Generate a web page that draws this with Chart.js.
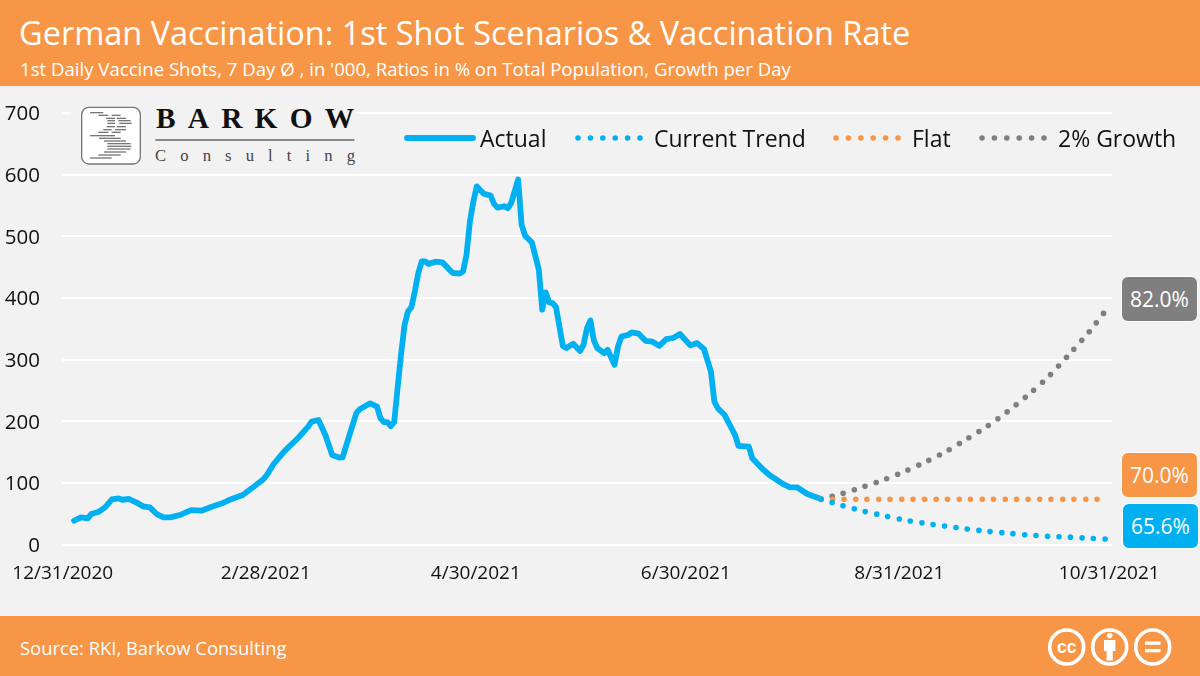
<!DOCTYPE html>
<html>
<head>
<meta charset="utf-8">
<title>German Vaccination</title>
<script src="https://cdn.jsdelivr.net/npm/chart.js@4"></script>
<style>
  html, body { margin: 0; padding: 0; }
  body { width: 1200px; height: 676px; background: #f2f2f2; position: relative; overflow: hidden; font-family: "Open Sans", sans-serif; }
  canvas { position: absolute; left: 0; top: 0; }
  .band { position: absolute; left: 0; width: 1200px; background: #f79646; color: #fff; }
  .header { top: 0; height: 86px; }
  .footer { top: 616px; height: 60px; }
  .title { position: absolute; left: 19px; top: 12px; font-size: 32.5px; line-height: 42px; white-space: nowrap; }
  .subtitle { position: absolute; left: 20px; top: 57px; font-size: 18.6px; line-height: 24px; white-space: nowrap; }
  .source { position: absolute; left: 20px; top: 19px; font-size: 18.4px; line-height: 26px; white-space: nowrap; }
  .logo, .cc { position: absolute; }
  .legend-item { position: absolute; top: 120px; height: 36px; }
  .legend-item svg { position: absolute; left: 0; top: 0; }
  .legend-item span { position: absolute; top: 0; line-height: 36px; font-size: 23px; color: #111; white-space: nowrap; }
  .tag { position: absolute; width: 75px; height: 44px; line-height: 44px; border: 1px solid #fff; border-radius: 7px; color: #fff; text-align: center; font-size: 21px; }
</style>
</head>
<body>
<canvas id="chart" width="1200" height="676"></canvas>

<div class="band header">
  <div class="title">German Vaccination: 1st Shot Scenarios &amp; Vaccination Rate</div>
  <div class="subtitle">1st Daily Vaccine Shots, 7 Day Ø , in '000, Ratios in % on Total Population, Growth per Day</div>
</div>
<div class="band footer">
  <div class="source">Source: RKI, Barkow Consulting</div>
  <svg class="cc" style="left:1040px;top:0" width="140" height="60" viewBox="0 0 140 60">
    <g fill="none" stroke="#fff" stroke-width="3.6">
      <circle cx="26.7" cy="31" r="17"/>
      <circle cx="69.7" cy="31" r="17"/>
      <circle cx="112.7" cy="31" r="17"/>
    </g>
    <text x="26.7" y="37" text-anchor="middle" fill="#fff" font-family="'Liberation Sans'" font-weight="700" font-size="17.5">cc</text>
    <g fill="#fff">
      <circle cx="69.7" cy="19.5" r="2.8"/>
      <path d="M64 24h11.4v11h-2.6v9.500h-6.200v-9.500h-2.600z"/>
      <rect x="105" y="25.500" width="15.500" height="3.300"/>
      <rect x="105" y="33" width="15.500" height="3.300"/>
    </g>
  </svg>
</div>

<svg class="logo" style="left:0;top:90px" width="400" height="100" viewBox="0 0 1200 300">
  <rect x="212" y="30" width="856" height="210" fill="#f2f2f2"/>
  <rect x="245" y="52" width="176" height="170" rx="22" fill="#fff" stroke="#777" stroke-width="4"/>
  <g id="logoLines" stroke="#777" stroke-width="4"></g>
  <text x="468" y="115" textLength="594" lengthAdjust="spacing" font-family="'Liberation Serif'" font-weight="700" font-size="88" fill="#111">BARKOW</text>
  <rect x="466" y="147" width="597" height="6" fill="#888"/>
  <text x="465" y="212" textLength="600" lengthAdjust="spacing" font-family="'Liberation Serif'" font-size="50" fill="#444">Consulting</text>
</svg>

<div class="tag" style="left:1121px;top:276px;background:#7f7f7f">82.0%</div>
<div class="tag" style="left:1121px;top:452px;background:#f79646">70.0%</div>
<div class="tag" style="left:1122px;top:503px;background:#00b0f0">65.6%</div>

<script>
// x axis is days since 12/31/2020
const tickDays = [0, 59, 120, 181, 243, 304];
const tickLabels = ["12/31/2020", "2/28/2021", "4/30/2021", "6/30/2021", "8/31/2021", "10/31/2021"];

// 1st shots per day, '000
const actualDays = [3, 5, 7, 8, 10, 12, 14, 16, 17, 19, 21, 23, 25, 27, 29, 31, 34, 37, 40, 43, 46, 48, 52, 55, 58, 59, 61, 64, 66, 68, 71, 72, 74, 76, 78, 80, 81, 83, 85, 86, 89, 91, 92, 93, 94, 95, 96, 97, 98, 99, 100, 101, 102, 103, 104, 105, 106, 108, 110, 113, 115, 116, 117, 118, 119, 120, 122, 124, 125, 126, 128, 129, 130, 132, 133, 134, 136, 138, 139, 140, 141, 142, 143, 145, 146, 148, 150, 151, 152, 153, 154, 155, 157, 158, 160, 161, 162, 164, 165, 167, 169, 171, 172, 173, 175, 177, 179, 182, 184, 186, 188, 189, 190, 192, 195, 196, 199, 200, 203, 205, 209, 211, 213, 216, 220];
const actualValues = [38.5, 44, 42.4, 49.4, 52.6, 60.3, 73.3, 74.9, 72.6, 73.8, 68.4, 61.9, 60.3, 49.4, 44, 44, 48.3, 55.9, 54.8, 61.3, 66.8, 72.1, 80.3, 92.8, 105.8, 112.8, 130.6, 150.6, 161.5, 172.4, 191.2, 199.4, 202, 177.6, 145, 141, 141.5, 177.6, 213, 219.5, 229, 223.7, 204.9, 198.4, 198.4, 191.9, 198.4, 255, 309, 356, 378, 385, 410.6, 440.5, 459.3, 459.3, 455, 458.8, 457.7, 440.5, 439.3, 443, 470, 524.3, 556.8, 581, 569, 566, 552.6, 546.5, 548.7, 545.4, 554.2, 592, 519, 501, 490, 446, 381, 409, 392.7, 391.7, 385, 322, 318.6, 325.6, 314, 324, 351, 363.5, 331, 318.6, 310.5, 316, 291.5, 321, 337.5, 340, 344, 342, 330.5, 329, 325.6, 322.3, 333, 335, 341.4, 323, 326.7, 317, 280.6, 231.8, 221, 210, 177.7, 160, 158.7, 140, 122.5, 112.8, 98, 92.8, 92.8, 81.9, 73.8];

// scenario runs from the last actual day to end of October
const scenarioDays = [220, 226, 232, 238, 244, 250, 256, 262, 268, 274, 280, 286, 292, 298, 303];
const trendValues = [73.5, 63.5, 54.5, 47, 40, 34.5, 30, 25.5, 21.5, 18.5, 15.5, 13.2, 12, 10, 8.8];
const flatValues = [73.5, 73.5, 73.5, 73.5, 73.5, 73.5, 73.5, 73.5, 73.5, 73.5, 73.5, 73.5, 73.5, 73.5, 73.5];
const growthValues = [73, 82.5, 93, 104.5, 118, 133, 150, 170, 191, 215, 242, 272, 308, 346, 382];

const seriesNames = ["Actual", "Current Trend", "Flat", "2% Growth"];
const seriesColors = ["#00b0f0", "#00b0f0", "#f79646", "#7f7f7f"];

const toPoints = (days, values) => days.map((d, i) => ({ x: d, y: values[i] }));

const dotted = (i, values) => ({
  label: seriesNames[i],
  data: toPoints(scenarioDays, values),
  borderColor: seriesColors[i],
  borderWidth: 5.6,
  borderCapStyle: "round",
  borderDash: [0, 11.5],
  pointRadius: 0,
  tension: 0.3,
});

new Chart(document.getElementById("chart"), {
  type: "line",
  data: {
    datasets: [
      dotted(1, trendValues),
      dotted(2, flatValues),
      {
        label: seriesNames[0],
        data: toPoints(actualDays, actualValues),
        borderColor: seriesColors[0],
        borderWidth: 5.8,
        borderCapStyle: "round",
        borderJoinStyle: "round",
        pointRadius: 0,
      },
      dotted(3, growthValues),
    ],
  },
  options: {
    responsive: false,
    animation: false,
    layout: { padding: { top: 113, right: 88, left: 0, bottom: 0 } },
    plugins: { legend: { display: false }, tooltip: { enabled: false } },
    scales: {
      x: {
        type: "linear",
        min: -0.5,
        max: 304.5,
        grid: { display: false },
        border: { display: false },
        afterBuildTicks: (axis) => {
          axis.ticks = tickDays.map((d) => ({ value: d }));
        },
        afterFit: (axis) => {
          axis.height = 131.5;
        },
        ticks: {
          autoSkip: false,
          maxRotation: 0,
          padding: 10,
          labelOffset: -1,
          color: "#111",
          font: { family: "Open Sans", size: 19 },
          callback: (value) => tickLabels[tickDays.indexOf(value)],
        },
      },
      y: {
        min: 0,
        max: 700,
        afterFit: (axis) => {
          axis.width = 62;
        },
        grid: { color: "#fff", lineWidth: 2, drawTicks: false },
        border: { display: false },
        ticks: {
          stepSize: 100,
          padding: 22,
          labelOffset: 1.5,
          color: "#111",
          font: { family: "Open Sans", size: 20.5 },
        },
      },
    },
  },
});

// small stacked strokes inside the logo box
const logoStrokes = [[270,310,68],[295,325,76],[335,362,76],[318,345,85],[350,378,85],[322,345,92],[355,392,92],[322,345,100],[358,395,100],[320,345,110],[350,378,110],[310,335,119],[345,378,119],[295,325,127],[335,362,127],[270,345,137],[297,362,145],[312,378,153],[322,392,161],[322,394,169],[322,392,177],[312,378,186],[295,362,195],[270,335,204]];
const logoLines = document.getElementById("logoLines");
logoStrokes.forEach((s) => {
  const l = document.createElementNS("http://www.w3.org/2000/svg", "line");
  l.setAttribute("x1", s[0]);
  l.setAttribute("x2", s[1]);
  l.setAttribute("y1", s[2]);
  l.setAttribute("y2", s[2]);
  logoLines.appendChild(l);
});

// legend across the top right of the plot
const legendSlots = [
  { left: 404, sample: 68, text: 76 },
  { left: 575, sample: 64, text: 79 },
  { left: 833, sample: 64, text: 79 },
  { left: 979, sample: 64, text: 79 },
];
seriesNames.forEach((name, i) => {
  const slot = legendSlots[i];
  const item = document.createElement("div");
  item.className = "legend-item";
  item.style.left = slot.left + "px";
  const dash = i === 0 ? "" : 'stroke-dasharray="0 12.4"';
  const w = i === 0 ? 5.8 : 5.6;
  item.innerHTML =
    `<svg width="${slot.sample + 8}" height="36"><line x1="3" y1="18" x2="${slot.sample + 1}" y2="18" stroke="${seriesColors[i]}" stroke-width="${w}" stroke-linecap="round" ${dash}/></svg>` +
    `<span style="left:${slot.text}px">${name}</span>`;
  document.body.appendChild(item);
});
</script>
</body>
</html>
